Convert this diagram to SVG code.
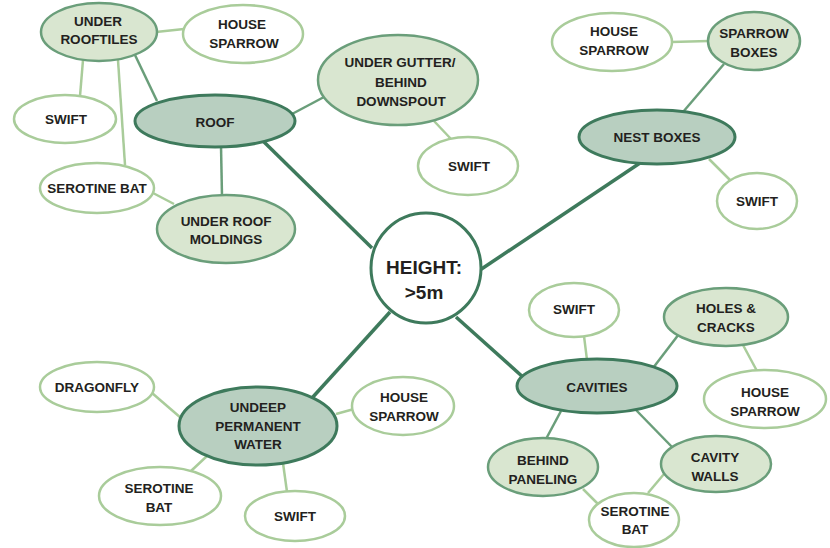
<svg xmlns="http://www.w3.org/2000/svg" width="830" height="548" viewBox="0 0 830 548">
<style>
text{font-family:"Liberation Sans",Arial,sans-serif;font-weight:bold;font-size:13.5px;fill:#231f20;text-anchor:middle}
.big{font-size:19px}
.main{fill:#b8cfc0;stroke:#3e7a5c;stroke-width:3}
.mid{fill:#d9e6d0;stroke:#6a9e7a;stroke-width:2.5}
.leaf{fill:#fff;stroke:#a9cc9a;stroke-width:2.5}
.ctr{fill:#fff;stroke:#3e7a5c;stroke-width:3}
.c1{stroke:#3e7a5c;stroke-width:3.5}
.c2{stroke:#6a9e7a;stroke-width:2.5}
.c3{stroke:#a9cc9a;stroke-width:2.5}
</style>
<g id="connectors" fill="none">
<line class="c1" x1="372" y1="248" x2="262" y2="140"/>
<line class="c1" x1="480" y1="270" x2="640" y2="163"/>
<line class="c1" x1="390" y1="312" x2="312" y2="398"/>
<line class="c1" x1="456" y1="317" x2="524" y2="378"/>
<line class="c2" x1="135" y1="55" x2="157" y2="101"/>
<line class="c2" x1="221" y1="146" x2="222" y2="196"/>
<line class="c2" x1="292" y1="114" x2="324" y2="97"/>
<line class="c2" x1="683" y1="112" x2="724" y2="64"/>
<line class="c2" x1="653" y1="368" x2="679" y2="334"/>
<line class="c2" x1="561" y1="411" x2="546" y2="439"/>
<line class="c2" x1="636" y1="410" x2="673" y2="448"/>
<line class="c3" x1="156" y1="32" x2="184" y2="29"/>
<line class="c3" x1="83" y1="60" x2="80" y2="96"/>
<line class="c3" x1="118" y1="60" x2="125" y2="165"/>
<line class="c3" x1="153" y1="193" x2="174" y2="204"/>
<line class="c3" x1="434" y1="121" x2="451" y2="139"/>
<line class="c3" x1="671" y1="42" x2="709" y2="41"/>
<line class="c3" x1="709" y1="159" x2="731" y2="181"/>
<line class="c3" x1="152" y1="393" x2="181" y2="418"/>
<line class="c3" x1="336" y1="414" x2="354" y2="409"/>
<line class="c3" x1="207" y1="456" x2="191" y2="471"/>
<line class="c3" x1="283" y1="463" x2="287" y2="492"/>
<line class="c3" x1="584" y1="336" x2="587" y2="360"/>
<line class="c3" x1="743" y1="345" x2="757" y2="371"/>
<line class="c3" x1="583" y1="489" x2="598" y2="504"/>
<line class="c3" x1="664" y1="474" x2="648" y2="493"/>
</g>
<g id="center"><circle class="ctr" cx="426" cy="268" r="55"/><text class="big" x="424" y="274">HEIGHT:</text><text class="big" x="424" y="299">&gt;5m</text></g>
<g id="roof"><ellipse class="main" cx="215" cy="121" rx="80" ry="26"/><text x="215" y="127">ROOF</text></g>
<g id="under-rooftiles"><ellipse class="mid" cx="99" cy="32" rx="58" ry="29"/><text x="98" y="26">UNDER</text><text x="99" y="44">ROOFTILES</text></g>
<g id="hs-tl"><ellipse class="leaf" cx="243" cy="34" rx="60" ry="29"/><text x="242" y="29">HOUSE</text><text x="244" y="48">SPARROW</text></g>
<g id="swift-l"><ellipse class="leaf" cx="65" cy="119" rx="51" ry="24"/><text x="66" y="124">SWIFT</text></g>
<g id="serotine-l"><ellipse class="leaf" cx="97" cy="188" rx="57" ry="25"/><text x="97" y="193">SEROTINE BAT</text></g>
<g id="under-roof-moldings"><ellipse class="mid" cx="226" cy="229" rx="69" ry="34"/><text x="226" y="226">UNDER ROOF</text><text x="226" y="244">MOLDINGS</text></g>
<g id="under-gutter"><ellipse class="mid" cx="398" cy="80" rx="80" ry="45"/><text x="400" y="67">UNDER GUTTER/</text><text x="401" y="87">BEHIND</text><text x="401" y="106">DOWNSPOUT</text></g>
<g id="swift-m"><ellipse class="leaf" cx="468" cy="166" rx="50" ry="29"/><text x="469" y="171">SWIFT</text></g>
<g id="hs-tr"><ellipse class="leaf" cx="612" cy="42" rx="60" ry="29"/><text x="614" y="36">HOUSE</text><text x="614" y="55">SPARROW</text></g>
<g id="sparrow-boxes"><ellipse class="mid" cx="754" cy="41" rx="46" ry="29"/><text x="754" y="38">SPARROW</text><text x="754" y="57">BOXES</text></g>
<g id="nest-boxes"><ellipse class="main" cx="657" cy="137" rx="78" ry="27"/><text x="657" y="142">NEST BOXES</text></g>
<g id="swift-r"><ellipse class="leaf" cx="757" cy="201" rx="40" ry="28"/><text x="757" y="206">SWIFT</text></g>
<g id="dragonfly"><ellipse class="leaf" cx="97" cy="387" rx="57" ry="25"/><text x="97" y="392">DRAGONFLY</text></g>
<g id="undeep"><ellipse class="main" cx="258" cy="426" rx="79" ry="39"/><text x="258" y="412">UNDEEP</text><text x="258" y="431">PERMANENT</text><text x="258" y="449">WATER</text></g>
<g id="hs-bl"><ellipse class="leaf" cx="403" cy="406" rx="51" ry="29"/><text x="404" y="402">HOUSE</text><text x="404" y="421">SPARROW</text></g>
<g id="serotine-bl"><ellipse class="leaf" cx="160" cy="496" rx="61" ry="29"/><text x="159" y="493">SEROTINE</text><text x="159" y="512">BAT</text></g>
<g id="swift-bl"><ellipse class="leaf" cx="295" cy="516" rx="50" ry="25"/><text x="295" y="521">SWIFT</text></g>
<g id="swift-br"><ellipse class="leaf" cx="574" cy="310" rx="45" ry="27"/><text x="574" y="314">SWIFT</text></g>
<g id="holes-cracks"><ellipse class="mid" cx="726" cy="317" rx="62" ry="29"/><text x="726" y="313">HOLES &amp;</text><text x="726" y="332">CRACKS</text></g>
<g id="cavities"><ellipse class="main" cx="597" cy="386" rx="80" ry="27"/><text x="597" y="392">CAVITIES</text></g>
<g id="hs-br"><ellipse class="leaf" cx="765" cy="399" rx="61" ry="29"/><text x="765" y="397">HOUSE</text><text x="765" y="416">SPARROW</text></g>
<g id="behind-paneling"><ellipse class="mid" cx="543" cy="467" rx="55" ry="29"/><text x="543" y="465">BEHIND</text><text x="543" y="484">PANELING</text></g>
<g id="cavity-walls"><ellipse class="mid" cx="716" cy="464" rx="55" ry="28"/><text x="715" y="462">CAVITY</text><text x="715" y="481">WALLS</text></g>
<g id="serotine-br"><ellipse class="leaf" cx="634" cy="520" rx="45" ry="27"/><text x="635" y="516">SEROTINE</text><text x="635" y="534">BAT</text></g>
</svg>
